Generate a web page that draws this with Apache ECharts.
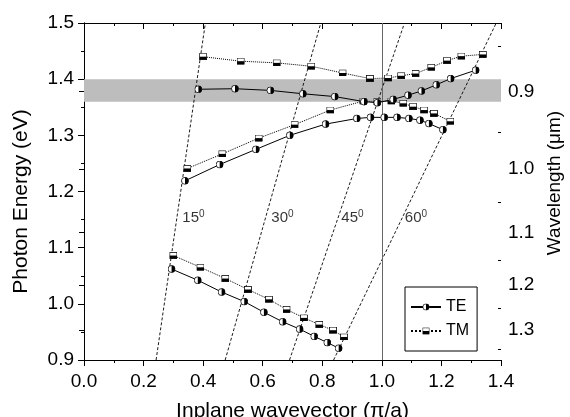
<!DOCTYPE html>
<html>
<head>
<meta charset="utf-8">
<script src="https://cdn.jsdelivr.net/npm/echarts@6/dist/echarts.min.js"></script>
<style>
  html, body { margin: 0; padding: 0; background: #fff; }
  #main { width: 570px; height: 417px; }
</style>
</head>
<body>
<div id="main"></div>
<script>
// TE 模式 (三个能带)
var teUpperK = [0.384, 0.507, 0.626, 0.735, 0.842, 0.940, 0.985, 1.038, 1.088, 1.133, 1.183, 1.231, 1.315];
var teUpperE = [1.382, 1.383, 1.380, 1.374, 1.369, 1.360, 1.358, 1.364, 1.3715, 1.379, 1.390, 1.401, 1.416];
var teMidK = [0.339, 0.4555, 0.577, 0.691, 0.811, 0.916, 0.962, 1.008, 1.051, 1.091, 1.128, 1.158, 1.205];
var teMidE = [1.219, 1.248, 1.275, 1.300, 1.320, 1.330, 1.332, 1.332, 1.332, 1.330, 1.327, 1.321, 1.310];
var teLowK = [0.294, 0.382, 0.462, 0.538, 0.604, 0.667, 0.724, 0.773, 0.817, 0.855];
var teLowE = [1.062, 1.042, 1.021, 1.004, 0.985, 0.968, 0.955, 0.942, 0.931, 0.921];

// TM 模式
var tmUpperK = [0.400, 0.526, 0.647, 0.763, 0.868, 0.960, 1.021, 1.065, 1.113, 1.166, 1.219, 1.267, 1.339];
var tmUpperE = [1.440, 1.432, 1.429, 1.423, 1.411, 1.401, 1.402, 1.406, 1.410, 1.421, 1.433, 1.441, 1.444];
var tmMidK = [0.347, 0.4645, 0.5865, 0.707, 0.827, 0.938, 0.985, 1.032, 1.072, 1.105, 1.142, 1.175, 1.230];
var tmMidE = [1.241, 1.267, 1.295, 1.319, 1.345, 1.361, 1.360, 1.361, 1.357, 1.351, 1.345, 1.339, 1.325];
var tmLowK = [0.300, 0.391, 0.4745, 0.5505, 0.621, 0.680, 0.7385, 0.790, 0.836, 0.873];
var tmLowE = [1.086, 1.065, 1.045, 1.0255, 1.008, 0.990, 0.975, 0.963, 0.953, 0.941];

// 光线 (入射角)
var lightAngles = ['15', '30', '45', '60'];
var lightE = [0.9, 1.5];
var lightKBottom = [0.242, 0.474, 0.690, 0.838];
var lightKTop = [0.4075, 0.795, 1.076, 1.384];
var angleLabelK = [0.33, 0.629, 0.864, 1.077];
var angleLabelE = 1.153;

// 灰色带 和 竖线
var bandLow = 1.36, bandHigh = 1.40;
var edgeK = 1.0;

// 右轴 波长 (μm) = 1.24 / E
var wlMajor = [0.9, 1.0, 1.1, 1.2, 1.3];
var wlMinor = [0.85, 0.95, 1.05, 1.15, 1.25, 1.35];

function zip(xs, ys) {
  return xs.map(function (x, i) { return [x, ys[i]]; });
}
function svg(s) {
  return 'image://data:image/svg+xml;charset=utf-8,' + encodeURIComponent(s);
}
var halfCircle = svg('<svg xmlns="http://www.w3.org/2000/svg" width="20" height="20" viewBox="0 0 20 20">' +
  '<circle cx="10" cy="10" r="8.8" fill="#fff" stroke="#000" stroke-width="2"/>' +
  '<path d="M10 1.2 A8.8 8.8 0 0 1 10 18.8 Z" fill="#000"/></svg>');
var halfSquare = svg('<svg xmlns="http://www.w3.org/2000/svg" width="20" height="18" viewBox="0 0 20 18">' +
  '<rect x="1" y="1" width="18" height="16" fill="#fff" stroke="#000" stroke-width="2"/>' +
  '<rect x="1" y="9" width="18" height="8" fill="#000"/></svg>');

var font = 'Liberation Sans';
var myChart = echarts.init(document.getElementById('main'));

var series = [];
// 灰色带 + 竖线
series.push({
  type: 'line', name: 'band', data: [], silent: true, z: 1,
  markArea: { silent: true, itemStyle: { color: '#bdbdbd' }, data: [[{ yAxis: bandLow }, { yAxis: bandHigh }]] },
  markLine: { silent: true, symbol: 'none', label: { show: false },
    lineStyle: { color: '#666', width: 1, type: 'solid' }, data: [{ xAxis: edgeK }] }
});
// 光线
lightAngles.forEach(function (a, i) {
  series.push({
    type: 'line', name: 'light' + a, silent: true, symbol: 'none', z: 2,
    lineStyle: { color: '#000', width: 0.9, type: [3, 2] },
    data: [[lightKBottom[i], lightE[0]], [lightKTop[i], lightE[1]]]
  });
});
// 角度标注
series.push({
  type: 'scatter', name: 'angles', silent: true, symbolSize: 0, z: 3,
  data: lightAngles.map(function (a, i) { return { value: [angleLabelK[i], angleLabelE], name: a }; }),
  label: {
    show: true, position: [0, 0], align: 'left', verticalAlign: 'middle',
    formatter: function (p) { return '{n|' + p.name + '}{s|0}'; },
    rich: {
      n: { fontFamily: font, fontSize: 15, color: '#000' },
      s: { fontFamily: font, fontSize: 10, color: '#000', padding: [0, 0, 7, 0] }
    }
  }
});
// TM
[[tmUpperK, tmUpperE], [tmMidK, tmMidE], [tmLowK, tmLowE]].forEach(function (b) {
  series.push({
    type: 'line', name: 'TM', data: zip(b[0], b[1]), z: 4,
    symbol: halfSquare, symbolSize: [8, 7], showAllSymbol: true,
    lineStyle: { color: '#000', width: 1, type: 'dotted' },
    itemStyle: { color: '#000' }
  });
});
// TE
[[teUpperK, teUpperE], [teMidK, teMidE], [teLowK, teLowE]].forEach(function (b) {
  series.push({
    type: 'line', name: 'TE', data: zip(b[0], b[1]), z: 5,
    symbol: halfCircle, symbolSize: 8, showAllSymbol: true,
    lineStyle: { color: '#000', width: 1, type: 'solid' },
    itemStyle: { color: '#000' }
  });
});

var axisLine = { show: true, lineStyle: { color: '#000', width: 1 } };

option = {
  animation: false,
  backgroundColor: '#fff',
  grid: { left: 84, right: 69, top: 23, bottom: 57, containLabel: false, outerBoundsMode: 'none' },
  legend: {
    data: ['TE', 'TM'], orient: 'vertical', left: 405, top: 287,
    padding: [12, 8, 12, 5], itemGap: 8, itemWidth: 30, itemHeight: 9,
    borderColor: '#000', borderWidth: 1, borderRadius: 0,
    textStyle: { fontFamily: font, fontSize: 16, color: '#000' }
  },
  xAxis: [{
    type: 'value', min: 0, max: 1.4, interval: 0.2, position: 'bottom',
    name: 'Inplane wavevector (π/a)', nameLocation: 'middle', nameGap: 41,
    nameTextStyle: { fontFamily: font, fontSize: 21, color: '#000' },
    axisLine: axisLine, splitLine: { show: false },
    axisTick: { show: true, inside: false, length: 6, lineStyle: { color: '#000' } },
    minorTick: { show: true, splitNumber: 2, length: 3, lineStyle: { color: '#000' } },
    axisLabel: { fontFamily: font, fontSize: 19, color: '#000', margin: 12,
      formatter: function (v) { return v.toFixed(1); } }
  }, {
    type: 'value', min: 0, max: 1.4, interval: 0.2, position: 'top',
    axisLine: axisLine, splitLine: { show: false }, axisLabel: { show: false },
    axisTick: { show: true, inside: true, length: 6, lineStyle: { color: '#000' } },
    minorTick: { show: true, splitNumber: 2, length: 3, lineStyle: { color: '#000' } }
  }],
  yAxis: [{
    type: 'value', min: 0.9, max: 1.5, interval: 0.1, position: 'left',
    name: 'Photon Energy (eV)', nameLocation: 'middle', nameGap: 52,
    nameTextStyle: { fontFamily: font, fontSize: 21, color: '#000', padding: [0, 20, 0, 0] },
    axisLine: axisLine, splitLine: { show: false },
    axisTick: { show: true, inside: false, length: 6, lineStyle: { color: '#000' } },
    minorTick: { show: true, splitNumber: 2, length: 3, lineStyle: { color: '#000' } },
    axisLabel: { fontFamily: font, fontSize: 19, color: '#000', margin: 10,
      formatter: function (v) { return v.toFixed(1); } }
  }, {
    type: 'value', min: 0.9, max: 1.5, position: 'right',
    name: 'Wavelength (μm)', nameLocation: 'middle', nameGap: 42, nameRotate: 90,
    nameTextStyle: { fontFamily: font, fontSize: 19, color: '#000', padding: [0, 0, 0, 17] },
    axisLine: axisLine, splitLine: { show: false },
    axisTick: { show: true, inside: true, length: 5, lineStyle: { color: '#000' },
      customValues: wlMajor.map(function (w) { return 1.24 / w; }) },
    axisLabel: { fontFamily: font, fontSize: 19, color: '#000', margin: 7,
      customValues: wlMajor.map(function (w) { return 1.24 / w; }),
      formatter: function (v) { return (1.24 / v).toFixed(1); } }
  }, {
    type: 'value', min: 0.9, max: 1.5, position: 'right',
    axisLine: { show: false }, splitLine: { show: false }, axisLabel: { show: false },
    axisTick: { show: true, inside: true, length: 3, lineStyle: { color: '#000' },
      customValues: wlMinor.map(function (w) { return 1.24 / w; }) }
  }],
  series: series
};

myChart.setOption(option);
</script>
</body>
</html>
